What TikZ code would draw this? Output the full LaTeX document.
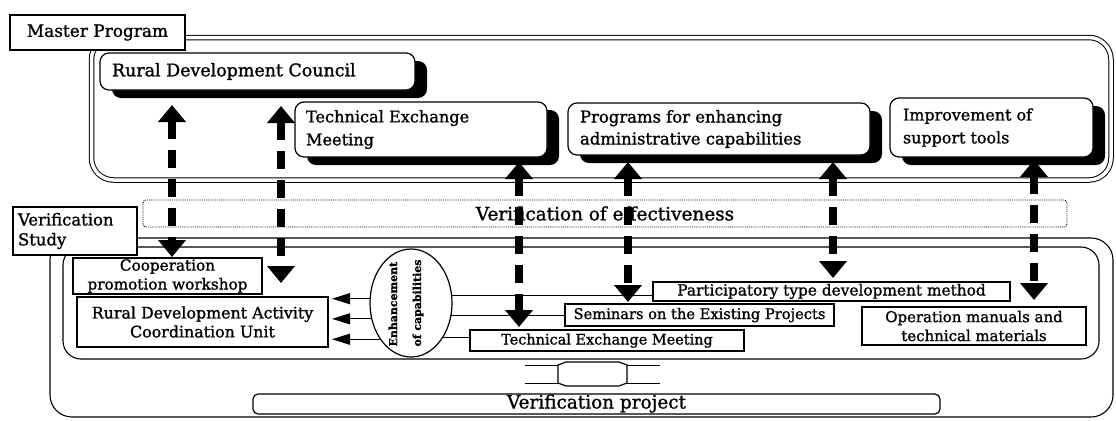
\documentclass[tikz,border=0pt]{standalone}
\usepackage{fontspec}
\setmainfont{DejaVu Serif}[FakeBold=1.2]
\usetikzlibrary{arrows.meta,shadows,shapes.geometric}

\begin{document}
\begin{tikzpicture}[x=1bp,y=-1bp,
  every node/.style={inner sep=0pt, outer sep=0pt},
  plainbox/.style={draw, line width=1.2bp, fill=white},
  shadebox/.style={draw, line width=1.2bp, fill=white, rounded corners=9bp,
    drop shadow={shadow xshift=12bp, shadow yshift=-8bp, fill=black, opacity=1}},
  groupframe/.style={draw, line width=1.1bp, rounded corners=22bp},
  dblframe/.style={draw, double, line width=1bp, double distance=3.5bp, rounded corners=22bp},
  linkarrow/.style={line width=7.5bp, dash pattern=on 18bp off 11bp,
    >={Triangle[width=27bp,length=17bp]}, <->},
  feed/.style={line width=1bp, >={Triangle[width=11bp,length=18bp]}, ->, shorten >=4bp},
  spoke/.style={line width=1bp},
]
\useasboundingbox (0,0) rectangle (1116,420);

% ---- group frames ----
\node[dblframe, anchor=north west, minimum width=1019.5bp, minimum height=142.5bp] (mframe) at (91.5,37.5) {};
\node[groupframe, anchor=north west, minimum width=1063bp, minimum height=179bp] (vouter) at (50,238) {};
\node[groupframe, rounded corners=18bp, anchor=north west, minimum width=1036bp, minimum height=112bp] (vinner) at (63,247) {};

% ---- frame labels ----
\node[plainbox, minimum width=175bp, minimum height=35bp, font=\fontsize{17}{20}\selectfont] (mlabel) at (97.5,32.5) {Master Program};
\node[plainbox, minimum width=124bp, minimum height=48bp] (vlabel) at (75,231) {};
\node[anchor=west, align=left, font=\fontsize{16.5}{20}\selectfont] (vlabel-t) at ([xshift=5bp]vlabel.west) {Verification\\Study};

% ---- master program activities ----
\node[shadebox, minimum width=315bp, minimum height=37bp] (rdc) at (257.5,71.5) {};
\node[anchor=west, font=\fontsize{17.5}{21}\selectfont] (rdc-t) at ([xshift=12bp]rdc.west) {Rural Development Council};

\node[shadebox, minimum width=252bp, minimum height=55bp] (temtop) at (421,129.5) {};
\node[anchor=west, align=left, font=\fontsize{16.2}{23}\selectfont] (temtop-t) at ([xshift=11bp]temtop.west) {Technical Exchange\\Meeting};

\node[shadebox, minimum width=302bp, minimum height=52bp] (prog) at (719,129) {};
\node[anchor=west, align=left, font=\fontsize{16.5}{22}\selectfont] (prog-t) at ([xshift=12bp]prog.west) {Programs for enhancing\\administrative capabilities};

\node[shadebox, minimum width=203bp, minimum height=59bp] (impr) at (991.5,127.5) {};
\node[anchor=west, align=left, font=\fontsize{16}{23}\selectfont] (impr-t) at ([xshift=13bp]impr.west) {Improvement of\\support tools};

% ---- verification of effectiveness ----
\node[draw, densely dotted, line width=0.9bp, rounded corners=3bp, minimum width=924bp, minimum height=27bp,
      font=\fontsize{18.5}{20}\selectfont] (eff) at (605,213.5) {Verification of effectiveness};

% ---- verification study items ----
\node[plainbox, minimum width=189bp, minimum height=36bp, align=center, font=\fontsize{15.3}{19}\selectfont] (coop) at (167.5,276) {Cooperation\\promotion workshop};
\node[plainbox, minimum width=251bp, minimum height=50bp, align=center, font=\fontsize{15.9}{19}\selectfont] (rdacu) at (202.5,322) {Rural Development Activity\\Coordination Unit};
\node[plainbox, minimum width=357bp, minimum height=19bp, text height=11bp, text depth=3bp, font=\fontsize{15.4}{18}\selectfont] (part) at (831.5,291.5) {Participatory type development method};
\node[plainbox, minimum width=269bp, minimum height=22bp, text height=11bp, text depth=3bp, font=\fontsize{14.7}{18}\selectfont] (sem) at (699.5,315) {Seminars on the Existing Projects};
\node[plainbox, minimum width=274bp, minimum height=21bp, text height=11bp, text depth=3bp, font=\fontsize{14.5}{18}\selectfont] (temb) at (607,340.5) {Technical Exchange Meeting};
\node[plainbox, minimum width=224bp, minimum height=38bp, align=center, font=\fontsize{15}{19}\selectfont] (oper) at (974,326) {Operation manuals and\\technical materials};

\node[draw, ellipse, line width=1.2bp, fill=white, minimum width=82bp, minimum height=108bp] (ell) at (411,303) {};
\node[rotate=90, align=left, font=\bfseries\fontsize{11}{24}\selectfont] (ell-t) at (406,303) {Enhancement\\of capabilities};

% ---- verification project ----
\node[draw, line width=1.2bp, rounded corners=5bp, fill=white, minimum width=687bp, minimum height=20bp,
      text height=13bp, text depth=4bp, font=\fontsize{18.5}{20}\selectfont] (vproj) at (596.5,404) {Verification project};

% hollow two-way arrow between the study and the project
\draw[line width=1bp] (525,365) -- (660,365) (525,383) -- (660,383);
\draw[line width=1.2bp, fill=white] (558,365) -- (566,362) -- (619,362) -- (627,365) -- (627,383)
  -- (619,386) -- (566,386) -- (558,383) -- cycle;

% ---- links from the enhancement ellipse ----
\draw[feed] (ell.174) -- (ell.174 -| rdacu.east);
\draw[feed] (ell.202) -- (ell.202 -| rdacu.east);
\draw[feed] (ell.230) -- (ell.230 -| rdacu.east);
\draw[spoke] (ell.11) -- (ell.11 -| part.west);
\draw[spoke] (ell.343) -- (ell.343 -| sem.west);
\draw[spoke] (ell.312) -- (ell.312 -| temb.west);

% ---- two-way links between master program and verification study ----
\coordinate (a1t) at (172,105);  \coordinate (a1b) at (172,257);
\coordinate (a2t) at (281,106);  \coordinate (a2b) at (281,283);
\coordinate (a3t) at (519,162);  \coordinate (a3b) at (519,327);
\coordinate (a4t) at (628,162);  \coordinate (a4b) at (628,302);
\coordinate (a5t) at (833,162);  \coordinate (a5b) at (833,278);
\coordinate (a6t) at (1034,160); \coordinate (a6b) at (1034,300);
\draw[linkarrow] (a1t) -- (a1b);
\draw[linkarrow] (a2t) -- (a2b);
\draw[linkarrow] (a3t) -- (a3b);
\draw[linkarrow] (a4t) -- (a4b);
\draw[linkarrow] (a5t) -- (a5b);
\draw[linkarrow] (a6t) -- (a6b);
\end{tikzpicture}
\end{document}
